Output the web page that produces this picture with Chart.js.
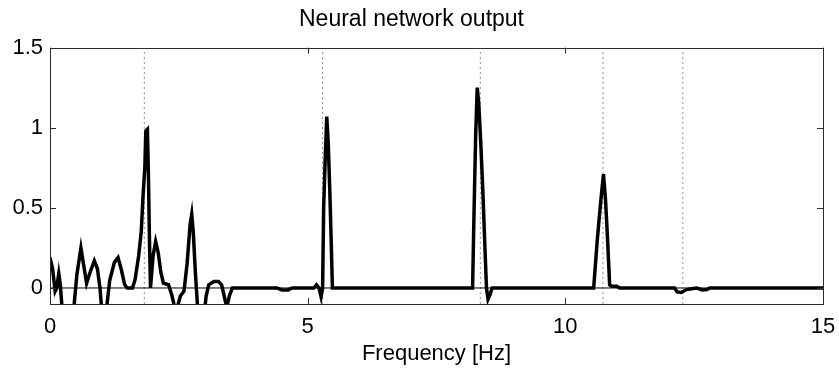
<!DOCTYPE html>
<html>
<head>
<meta charset="utf-8">
<script src="https://cdn.jsdelivr.net/npm/chart.js@4"></script>
<style>
  html, body { margin: 0; padding: 0; background: #fff; }
  #nnChart { display: block; }
</style>
</head>
<body>
<canvas id="nnChart" width="839" height="370"></canvas>
<script>
// Network output sampled along frequency (Hz)
const freqHz = [
    0, 0.05, 0.1, 0.13, 0.17, 0.2, 0.24, 0.3, 0.4, 0.47,
    0.52, 0.6, 0.65, 0.71, 0.78, 0.86, 0.92, 0.97, 1.0, 1.05,
    1.1, 1.16, 1.25, 1.32, 1.38, 1.45, 1.5, 1.6, 1.65, 1.72,
    1.77, 1.81, 1.84, 1.86, 1.89, 1.91, 1.93, 1.95, 2.0, 2.05,
    2.1, 2.15, 2.2, 2.3, 2.36, 2.42, 2.48, 2.53, 2.6, 2.66,
    2.72, 2.75, 2.78, 2.82, 2.86, 2.9, 2.98, 3.03, 3.08, 3.18,
    3.27, 3.33, 3.38, 3.43, 3.48, 3.54, 4.4, 4.5, 4.62, 4.7,
    5.12, 5.17, 5.22, 5.26, 5.29, 5.31, 5.34, 5.37, 5.4, 5.43,
    5.46, 5.48, 8.2, 8.23, 8.26, 8.29, 8.32, 8.36, 8.4, 8.44,
    8.47, 8.5, 8.54, 8.58, 10.55, 10.62, 10.69, 10.74, 10.78, 10.82,
    10.86, 10.9, 11.0, 11.05, 12.12, 12.17, 12.25, 12.35, 12.45, 12.55,
    12.65, 12.75, 12.8, 15
];
const nnOutput = [
    0.19, 0.12, -0.02, 0.0, 0.09, 0.02, -0.15, -0.25, -0.2, -0.1,
    0.08, 0.25, 0.15, 0.03, 0.1, 0.17, 0.12, 0.0, -0.12, -0.2,
    -0.12, 0.05, 0.16, 0.19, 0.12, 0.02, 0.0, 0.0, 0.05, 0.2,
    0.35, 0.6, 0.75, 0.98, 0.99, 0.7, 0.3, 0.0, 0.2, 0.29,
    0.22, 0.1, 0.03, 0.02, -0.04, -0.12, -0.11, -0.05, -0.02, 0.15,
    0.4, 0.46, 0.35, 0.1, -0.1, -0.25, -0.2, -0.05, 0.02, 0.04,
    0.04, 0.02, -0.05, -0.12, -0.05, 0.0, 0.0, -0.012, -0.012, 0.0,
    0.0, 0.02, 0.0, -0.055, 0.0, 0.5, 0.8, 1.07, 0.9, 0.6,
    0.25, 0.0, 0.0, 0.5, 0.95, 1.25, 1.15, 0.9, 0.6, 0.25,
    0.0, -0.07, -0.04, 0.0, 0.0, 0.3, 0.55, 0.71, 0.55, 0.3,
    0.02, 0.01, 0.01, 0.0, 0.0, -0.025, -0.028, -0.01, -0.005, 0.0,
    -0.012, -0.01, 0.0, 0.0
];

// Dotted reference lines
const markerHz = [1.83, 5.29, 8.35, 10.73, 12.28];

const xTicks = [0, 5, 10, 15];
const yTicks = [0, 0.5, 1, 1.5];
const xRange = [0, 15];
const yRange = [-0.1, 1.5];

const FONT = "'Liberation Sans', Arial, sans-serif";

const curve = freqHz.map((f, i) => ({ x: f, y: nnOutput[i] }));

const markerSets = markerHz.map(f => ({
    data: [{ x: f, y: yRange[0] }, { x: f, y: yRange[1] }],
    borderColor: '#8c8c8c',
    borderWidth: 1,
    borderDash: [2, 3],
    pointRadius: 0
}));

// box around the axes plus inward tick marks on all four sides
const axesBox = {
    id: 'axesBox',
    afterDraw(chart) {
        const { ctx, chartArea: a, scales } = chart;
        const len = 6;
        ctx.save();
        ctx.strokeStyle = '#2b2b2b';
        ctx.lineWidth = 1;
        ctx.strokeRect(Math.round(a.left) + 0.5, Math.round(a.top) + 0.5,
            Math.round(a.right - a.left), Math.round(a.bottom - a.top));
        ctx.beginPath();
        xTicks.forEach(v => {
            const px = Math.round(scales.x.getPixelForValue(v)) + 0.5;
            ctx.moveTo(px, a.bottom); ctx.lineTo(px, a.bottom - len);
            ctx.moveTo(px, a.top); ctx.lineTo(px, a.top + len);
        });
        yTicks.forEach(v => {
            const py = Math.round(scales.y.getPixelForValue(v)) + 0.5;
            ctx.moveTo(a.left, py); ctx.lineTo(a.left + len, py);
            ctx.moveTo(a.right, py); ctx.lineTo(a.right - len, py);
        });
        ctx.stroke();
        ctx.restore();
    }
};

new Chart(document.getElementById('nnChart'), {
    type: 'line',
    data: {
        datasets: [
            {
                data: curve,
                borderColor: '#000',
                borderWidth: 3.5,
                pointRadius: 0,
                tension: 0
            },
            {
                data: [{ x: xRange[0], y: 0 }, { x: xRange[1], y: 0 }],
                borderColor: '#000',
                borderWidth: 1,
                pointRadius: 0
            },
            ...markerSets
        ]
    },
    options: {
        responsive: false,
        animation: false,
        layout: { padding: { left: 0, right: 16, top: 0, bottom: 0 } },
        plugins: {
            legend: { display: false },
            tooltip: { enabled: false },
            title: {
                display: true,
                text: 'Neural network output',
                color: '#000',
                font: { family: FONT, size: 23, weight: 'normal' },
                padding: { top: 6, bottom: 14 }
            }
        },
        scales: {
            x: {
                type: 'linear',
                min: xRange[0],
                max: xRange[1],
                afterBuildTicks: s => { s.ticks = xTicks.map(v => ({ value: v })); },
                afterFit: s => {
                    s.height = 66;
                    s.paddingLeft = 0;
                    s.paddingRight = 0;
                },
                grid: { display: false, drawTicks: false },
                border: { display: false },
                ticks: {
                    color: '#000',
                    font: { family: FONT, size: 22 },
                    padding: 10,
                    maxRotation: 0,
                    callback: v => String(v)
                },
                title: {
                    display: true,
                    text: 'Frequency [Hz]',
                    color: '#000',
                    font: { family: FONT, size: 22 },
                    padding: { top: 0, bottom: 3 }
                }
            },
            y: {
                type: 'linear',
                min: yRange[0],
                max: yRange[1],
                afterBuildTicks: s => { s.ticks = yTicks.map(v => ({ value: v })); },
                afterFit: s => { s.width = 50; },
                grid: { display: false, drawTicks: false },
                border: { display: false },
                ticks: {
                    color: '#000',
                    font: { family: FONT, size: 22 },
                    padding: 7,
                    callback: v => String(v)
                }
            }
        }
    },
    plugins: [axesBox]
});
</script>
</body>
</html>
